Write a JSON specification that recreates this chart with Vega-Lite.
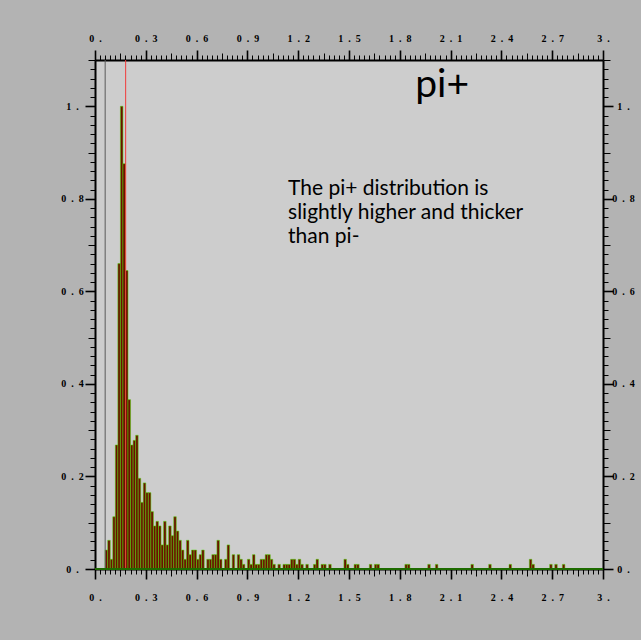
{
  "$schema": "https://vega.github.io/schema/vega-lite/v6.json",
  "width": 508,
  "height": 509,
  "autosize": {"type": "none"},
  "padding": {"left": 95, "top": 60, "right": 38, "bottom": 71},
  "background": "#b3b3b3",
  "config": {
    "view": {"fill": "#cdcdcd", "stroke": null},
    "axis": {
      "domainColor": "#000000",
      "domainWidth": 2,
      "tickColor": "#000000",
      "grid": false,
      "title": null,
      "labelFont": "Liberation Serif",
      "labelFontWeight": "bold",
      "labelFontSize": 10,
      "labelColor": "#000000",
      "labelOverlap": false,
      "labelFlush": false,
      "labelBound": false
    }
  },
  "datasets": {
    "hist": [
      {"lo": 0.06, "hi": 0.075, "v": 0.041},
      {"lo": 0.075, "hi": 0.09, "v": 0.062},
      {"lo": 0.09, "hi": 0.105, "v": 0.021},
      {"lo": 0.105, "hi": 0.12, "v": 0.113},
      {"lo": 0.12, "hi": 0.135, "v": 0.268},
      {"lo": 0.135, "hi": 0.15, "v": 0.66},
      {"lo": 0.15, "hi": 0.165, "v": 1.0},
      {"lo": 0.165, "hi": 0.18, "v": 0.876},
      {"lo": 0.18, "hi": 0.195, "v": 0.645},
      {"lo": 0.195, "hi": 0.21, "v": 0.366},
      {"lo": 0.21, "hi": 0.225, "v": 0.268},
      {"lo": 0.225, "hi": 0.24, "v": 0.278},
      {"lo": 0.24, "hi": 0.255, "v": 0.289},
      {"lo": 0.255, "hi": 0.27, "v": 0.196},
      {"lo": 0.27, "hi": 0.285, "v": 0.144},
      {"lo": 0.285, "hi": 0.3, "v": 0.186},
      {"lo": 0.3, "hi": 0.315, "v": 0.165},
      {"lo": 0.315, "hi": 0.33, "v": 0.165},
      {"lo": 0.33, "hi": 0.345, "v": 0.124},
      {"lo": 0.345, "hi": 0.36, "v": 0.093},
      {"lo": 0.36, "hi": 0.375, "v": 0.103},
      {"lo": 0.375, "hi": 0.39, "v": 0.093},
      {"lo": 0.39, "hi": 0.405, "v": 0.052},
      {"lo": 0.405, "hi": 0.42, "v": 0.103},
      {"lo": 0.42, "hi": 0.435, "v": 0.052},
      {"lo": 0.435, "hi": 0.45, "v": 0.093},
      {"lo": 0.45, "hi": 0.465, "v": 0.072},
      {"lo": 0.465, "hi": 0.48, "v": 0.113},
      {"lo": 0.48, "hi": 0.495, "v": 0.082},
      {"lo": 0.495, "hi": 0.51, "v": 0.062},
      {"lo": 0.51, "hi": 0.525, "v": 0.041},
      {"lo": 0.525, "hi": 0.54, "v": 0.021},
      {"lo": 0.54, "hi": 0.555, "v": 0.062},
      {"lo": 0.555, "hi": 0.57, "v": 0.031},
      {"lo": 0.57, "hi": 0.585, "v": 0.041},
      {"lo": 0.585, "hi": 0.6, "v": 0.041},
      {"lo": 0.6, "hi": 0.615, "v": 0.021},
      {"lo": 0.615, "hi": 0.63, "v": 0.031},
      {"lo": 0.63, "hi": 0.645, "v": 0.041},
      {"lo": 0.66, "hi": 0.675, "v": 0.021},
      {"lo": 0.675, "hi": 0.69, "v": 0.021},
      {"lo": 0.69, "hi": 0.705, "v": 0.031},
      {"lo": 0.705, "hi": 0.72, "v": 0.031},
      {"lo": 0.72, "hi": 0.735, "v": 0.062},
      {"lo": 0.735, "hi": 0.75, "v": 0.021},
      {"lo": 0.765, "hi": 0.78, "v": 0.021},
      {"lo": 0.78, "hi": 0.795, "v": 0.052},
      {"lo": 0.81, "hi": 0.825, "v": 0.031},
      {"lo": 0.84, "hi": 0.855, "v": 0.031},
      {"lo": 0.855, "hi": 0.87, "v": 0.021},
      {"lo": 0.87, "hi": 0.885, "v": 0.01},
      {"lo": 0.9, "hi": 0.915, "v": 0.021},
      {"lo": 0.915, "hi": 0.93, "v": 0.01},
      {"lo": 0.93, "hi": 0.945, "v": 0.031},
      {"lo": 0.945, "hi": 0.96, "v": 0.01},
      {"lo": 0.96, "hi": 0.975, "v": 0.01},
      {"lo": 0.975, "hi": 0.99, "v": 0.021},
      {"lo": 0.99, "hi": 1.005, "v": 0.021},
      {"lo": 1.005, "hi": 1.02, "v": 0.031},
      {"lo": 1.02, "hi": 1.035, "v": 0.031},
      {"lo": 1.035, "hi": 1.05, "v": 0.021},
      {"lo": 1.05, "hi": 1.065, "v": 0.01},
      {"lo": 1.08, "hi": 1.095, "v": 0.01},
      {"lo": 1.11, "hi": 1.125, "v": 0.01},
      {"lo": 1.125, "hi": 1.14, "v": 0.01},
      {"lo": 1.14, "hi": 1.155, "v": 0.01},
      {"lo": 1.155, "hi": 1.17, "v": 0.021},
      {"lo": 1.17, "hi": 1.185, "v": 0.021},
      {"lo": 1.185, "hi": 1.2, "v": 0.01},
      {"lo": 1.2, "hi": 1.215, "v": 0.021},
      {"lo": 1.215, "hi": 1.23, "v": 0.01},
      {"lo": 1.245, "hi": 1.26, "v": 0.01},
      {"lo": 1.29, "hi": 1.305, "v": 0.01},
      {"lo": 1.305, "hi": 1.32, "v": 0.021},
      {"lo": 1.335, "hi": 1.35, "v": 0.01},
      {"lo": 1.35, "hi": 1.365, "v": 0.01},
      {"lo": 1.38, "hi": 1.395, "v": 0.01},
      {"lo": 1.47, "hi": 1.485, "v": 0.021},
      {"lo": 1.485, "hi": 1.5, "v": 0.01},
      {"lo": 1.53, "hi": 1.545, "v": 0.01},
      {"lo": 1.545, "hi": 1.56, "v": 0.01},
      {"lo": 1.62, "hi": 1.635, "v": 0.01},
      {"lo": 1.65, "hi": 1.665, "v": 0.01},
      {"lo": 1.665, "hi": 1.68, "v": 0.01},
      {"lo": 1.83, "hi": 1.845, "v": 0.01},
      {"lo": 1.845, "hi": 1.86, "v": 0.01},
      {"lo": 1.965, "hi": 1.98, "v": 0.01},
      {"lo": 2.01, "hi": 2.025, "v": 0.01},
      {"lo": 2.22, "hi": 2.235, "v": 0.01},
      {"lo": 2.325, "hi": 2.34, "v": 0.01},
      {"lo": 2.445, "hi": 2.46, "v": 0.01},
      {"lo": 2.565, "hi": 2.58, "v": 0.021},
      {"lo": 2.58, "hi": 2.595, "v": 0.01},
      {"lo": 2.685, "hi": 2.7, "v": 0.01},
      {"lo": 2.715, "hi": 2.73, "v": 0.01},
      {"lo": 2.76, "hi": 2.775, "v": 0.01}
    ],
    "lines": [
      {"x": 0.06, "kind": "cut"},
      {"x": 0.181, "kind": "peak"}
    ]
  },
  "layer": [
    {
      "data": {"name": "hist"},
      "mark": {"type": "bar", "fill": "#6b1000", "stroke": "#4fe000", "strokeWidth": 0.5},
      "encoding": {
        "x": {
          "field": "lo", "type": "quantitative",
          "scale": {"domain": [0, 3], "nice": false, "zero": false},
          "axis": {
            "orient": "bottom",
            "values": [0,0.03,0.06,0.09,0.12,0.15,0.18,0.21,0.24,0.27,0.3,0.33,0.36,0.39,0.42,0.45,0.48,0.51,0.54,0.57,0.6,0.63,0.66,0.69,0.72,0.75,0.78,0.81,0.84,0.87,0.9,0.93,0.96,0.99,1.02,1.05,1.08,1.11,1.14,1.17,1.2,1.23,1.26,1.29,1.32,1.35,1.38,1.41,1.44,1.47,1.5,1.53,1.56,1.59,1.62,1.65,1.68,1.71,1.74,1.77,1.8,1.83,1.86,1.89,1.92,1.95,1.98,2.01,2.04,2.07,2.1,2.13,2.16,2.19,2.22,2.25,2.28,2.31,2.34,2.37,2.4,2.43,2.46,2.49,2.52,2.55,2.58,2.61,2.64,2.67,2.7,2.73,2.76,2.79,2.82,2.85,2.88,2.91,2.94,2.97,3],
            "tickSize": {"condition": [{"test": "round(datum.value*100) % 30 == 0", "value": 10}, {"test": "round(datum.value*100) % 15 == 0", "value": 7}], "value": 5},
            "tickWidth": {"condition": {"test": "round(datum.value*100) % 30 == 0", "value": 1.6}, "value": 1},
            "labelPadding": 13,
            "labelExpr": "round(datum.value*100) % 30 == 0 ? (round(datum.value*100) % 100 == 0 ? format(datum.value, 'd') + '\u2002.' : replace(format(datum.value, '.1f'), '.', '\u2002.\u2002')) : ''"
          }
        },
        "x2": {"field": "hi"},
        "y": {
          "field": "v", "type": "quantitative",
          "scale": {"domain": [0, 1.1], "nice": false},
          "axis": {
            "orient": "left",
            "values": [0,0.02,0.04,0.06,0.08,0.1,0.12,0.14,0.16,0.18,0.2,0.22,0.24,0.26,0.28,0.3,0.32,0.34,0.36,0.38,0.4,0.42,0.44,0.46,0.48,0.5,0.52,0.54,0.56,0.58,0.6,0.62,0.64,0.66,0.68,0.7,0.72,0.74,0.76,0.78,0.8,0.82,0.84,0.86,0.88,0.9,0.92,0.94,0.96,0.98,1,1.02,1.04,1.06,1.08,1.1],
            "tickSize": {"condition": [{"test": "round(datum.value*100) % 20 == 0", "value": 10}, {"test": "round(datum.value*100) % 10 == 0", "value": 7}], "value": 5},
            "tickWidth": {"condition": {"test": "round(datum.value*100) % 20 == 0", "value": 1.6}, "value": 1},
            "labelAlign": "center",
            "labelPadding": 13,
            "labelExpr": "round(datum.value*100) % 20 == 0 ? (round(datum.value*100) % 100 == 0 ? format(datum.value, 'd') + '\u2002.' : replace(format(datum.value, '.1f'), '.', '\u2002.\u2002')) : ''"
          }
        },
        "y2": {"datum": 0}
      }
    },
    {
      "data": {"name": "lines"},
      "mark": {"type": "rule", "strokeWidth": 1},
      "encoding": {
        "x": {
          "field": "x", "type": "quantitative",
          "scale": {"domain": [0, 3], "nice": false, "zero": false},
          "axis": {
            "orient": "top",
            "values": [0,0.03,0.06,0.09,0.12,0.15,0.18,0.21,0.24,0.27,0.3,0.33,0.36,0.39,0.42,0.45,0.48,0.51,0.54,0.57,0.6,0.63,0.66,0.69,0.72,0.75,0.78,0.81,0.84,0.87,0.9,0.93,0.96,0.99,1.02,1.05,1.08,1.11,1.14,1.17,1.2,1.23,1.26,1.29,1.32,1.35,1.38,1.41,1.44,1.47,1.5,1.53,1.56,1.59,1.62,1.65,1.68,1.71,1.74,1.77,1.8,1.83,1.86,1.89,1.92,1.95,1.98,2.01,2.04,2.07,2.1,2.13,2.16,2.19,2.22,2.25,2.28,2.31,2.34,2.37,2.4,2.43,2.46,2.49,2.52,2.55,2.58,2.61,2.64,2.67,2.7,2.73,2.76,2.79,2.82,2.85,2.88,2.91,2.94,2.97,3],
            "tickSize": {"condition": [{"test": "round(datum.value*100) % 30 == 0", "value": 10}, {"test": "round(datum.value*100) % 15 == 0", "value": 7}], "value": 5},
            "tickWidth": {"condition": {"test": "round(datum.value*100) % 30 == 0", "value": 1.6}, "value": 1},
            "labelPadding": 7,
            "labelExpr": "round(datum.value*100) % 30 == 0 ? (round(datum.value*100) % 100 == 0 ? format(datum.value, 'd') + '\u2002.' : replace(format(datum.value, '.1f'), '.', '\u2002.\u2002')) : ''"
          }
        },
        "color": {
          "field": "kind", "type": "nominal",
          "scale": {"domain": ["cut", "peak"], "range": ["#5a5a5a", "#f03c3c"]},
          "legend": null
        }
      }
    },
    {
      "data": {"values": [{"base": 0}]},
      "mark": {"type": "rule", "color": "#1e6b00", "strokeWidth": 2},
      "encoding": {
        "y": {
          "field": "base", "type": "quantitative",
          "scale": {"domain": [0, 1.1], "nice": false},
          "axis": {
            "orient": "right",
            "values": [0,0.02,0.04,0.06,0.08,0.1,0.12,0.14,0.16,0.18,0.2,0.22,0.24,0.26,0.28,0.3,0.32,0.34,0.36,0.38,0.4,0.42,0.44,0.46,0.48,0.5,0.52,0.54,0.56,0.58,0.6,0.62,0.64,0.66,0.68,0.7,0.72,0.74,0.76,0.78,0.8,0.82,0.84,0.86,0.88,0.9,0.92,0.94,0.96,0.98,1,1.02,1.04,1.06,1.08,1.1],
            "tickSize": {"condition": [{"test": "round(datum.value*100) % 20 == 0", "value": 10}, {"test": "round(datum.value*100) % 10 == 0", "value": 7}], "value": 5},
            "tickWidth": {"condition": {"test": "round(datum.value*100) % 20 == 0", "value": 1.6}, "value": 1},
            "labelAlign": "center",
            "labelPadding": 10,
            "labelExpr": "round(datum.value*100) % 20 == 0 ? (round(datum.value*100) % 100 == 0 ? format(datum.value, 'd') + '\u2002.' : replace(format(datum.value, '.1f'), '.', '\u2002.\u2002')) : ''"
          }
        }
      }
    },
    {
      "data": {"values": [{"label": "pi+", "x": 2.05, "y": 1.045}]},
      "mark": {"type": "text", "font": "Lato", "fontSize": 39, "align": "center", "baseline": "middle", "color": "#000000"},
      "encoding": {
        "text": {"field": "label"},
        "x": {"field": "x", "type": "quantitative", "axis": null},
        "y": {"field": "y", "type": "quantitative", "axis": null}
      }
    },
    {
      "data": {"values": [{"x": 1.14, "y": 0.809}]},
      "mark": {"type": "text", "text": ["The pi+ distribution is", "slightly higher and thicker", "than pi-"], "font": "Lato", "fontSize": 21, "lineHeight": 24, "align": "left", "baseline": "alphabetic", "color": "#000000"},
      "encoding": {
        "x": {"field": "x", "type": "quantitative", "axis": null},
        "y": {"field": "y", "type": "quantitative", "axis": null}
      }
    }
  ],
  "resolve": {"axis": {"x": "independent", "y": "independent"}}
}
